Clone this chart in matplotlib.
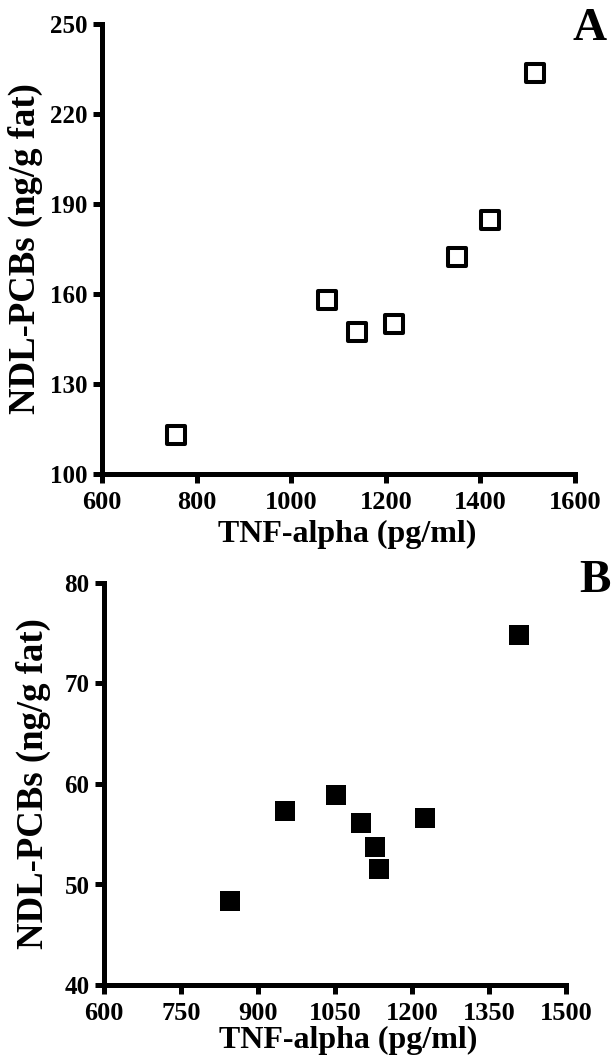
import matplotlib.pyplot as plt

# Panel A verileri (acik kareler)
tnf_a = [757, 1075, 1140, 1217, 1350, 1420, 1515]
pcb_a = [113, 158, 147.3, 150, 172.3, 184.7, 233.5]

# Panel B verileri (dolu kareler)
tnf_b = [845, 952, 1052, 1101, 1128, 1135, 1225, 1408]
pcb_b = [48.4, 57.3, 58.9, 56.1, 53.7, 51.5, 56.6, 74.8]

xticks_a = [600, 800, 1000, 1200, 1400, 1600]
yticks_a = [100, 130, 160, 190, 220, 250]
xticks_b = [600, 750, 900, 1050, 1200, 1350, 1500]
yticks_b = [40, 50, 60, 70, 80]

plt.rcParams['font.family'] = 'Liberation Serif'
plt.rcParams['font.weight'] = 'bold'

W, H = 614, 1061
fig = plt.figure(figsize=(W / 100, H / 100), dpi=100)

def px_axes(left, top, right, bottom):
    return fig.add_axes([left / W, 1 - bottom / H, (right - left) / W, (bottom - top) / H])

def style(ax, ylab_x, xlab_x, xlab_y):
    for s in ['top', 'right']:
        ax.spines[s].set_visible(False)
    for s in ['left', 'bottom']:
        ax.spines[s].set_linewidth(3.6)
        ax.spines[s].set_capstyle('projecting')
    ax.tick_params(axis='x', width=3.6, length=6.5, labelsize=19, pad=5.5)
    ax.tick_params(axis='y', width=3.6, length=6.5, labelsize=18, pad=4)
    for lab in ax.get_xticklabels() + ax.get_yticklabels():
        lab.set_fontweight('bold')
    ax.set_ylabel('NDL-PCBs (ng/g fat)', fontsize=26.5, fontweight='bold', va='center')
    ax.set_xlabel('TNF-alpha (pg/ml)', fontsize=23, fontweight='bold', va='center')
    ax.yaxis.set_label_coords(ylab_x, 0.5)
    ax.xaxis.set_label_coords(xlab_x, xlab_y)

# Panel A
ax1 = px_axes(102, 24, 575, 474)
ax1.scatter(tnf_a, pcb_a, marker='s', s=180, facecolors='white', edgecolors='black',
            linewidths=2.9, clip_on=False, zorder=3)
ax1.set_xlim(600, 1600)
ax1.set_ylim(100, 250)
ax1.set_xticks(xticks_a)
ax1.set_yticks(yticks_a)
style(ax1, -0.161, 0.518, -0.135)
fig.text(590 / W, 1 - 29 / H, 'A', fontsize=34, fontweight='bold', ha='center', va='center')

# Panel B
ax2 = px_axes(104, 583, 566, 985)
ax2.scatter(tnf_b, pcb_b, marker='s', s=205, facecolors='black', edgecolors='black',
            linewidths=0, clip_on=False, zorder=3)
ax2.set_xlim(600, 1500)
ax2.set_ylim(40, 80)
ax2.set_xticks(xticks_b)
ax2.set_yticks(yticks_b)
style(ax2, -0.152, 0.528, -0.139)
fig.text(595 / W, 1 - 581 / H, 'B', fontsize=34, fontweight='bold', ha='center', va='center')

fig.savefig('out.png', dpi=100)
